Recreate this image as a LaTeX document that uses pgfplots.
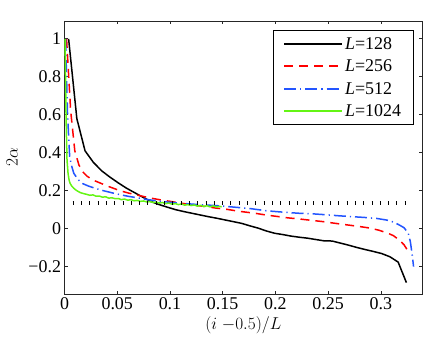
\documentclass[border=0pt]{standalone}
\usepackage{fontspec}
\setmainfont{Liberation Serif}
\usepackage{pgfplots}
\pgfplotsset{compat=1.18}
\definecolor{cRed}{RGB}{255,0,0}
\definecolor{cBlue}{RGB}{35,85,255}
\definecolor{cGreen}{RGB}{100,245,20}

\begin{document}
\begin{tikzpicture}
\useasboundingbox (-64.5bp,-55bp) rectangle (371.5bp,294bp);
\begin{axis}[
  scale only axis, width=357.5bp, height=273bp,
  xmin=0, xmax=0.339, ymin=-0.344, ymax=1.094,
  xtick={0,0.05,0.1,0.15,0.2,0.25,0.3},
  xticklabels={0,0.05,0.1,0.15,0.2,0.25,0.3},
  ytick={-0.2,0,0.2,0.4,0.6,0.8,1},
  yticklabels={−0.2,0,0.2,0.4,0.6,0.8,1},
  font=\fontsize{18}{21}\selectfont,
  tick label style={font=\fontsize{18}{21}\selectfont},
  xlabel={$(i\;{-}0.5)/L$}, ylabel={$2\alpha$},
  ylabel style={yshift=4bp},
  axis line style={black!85, line width=0.7pt},
  tick style={black!85, line width=0.7pt},
  major tick length=3.5bp,
  tick align=inside,
  legend style={at={(1,1)}, anchor=north east, xshift=-8.7bp, yshift=-9.5bp,
    draw=black, font=\fontsize{18}{21}\selectfont,
    inner xsep=10bp, inner ysep=2bp,
    nodes={minimum height=22.5bp}},
  legend cell align=left,
  legend image code/.code={\draw[#1, line width=1.9bp] (0bp,0bp) -- (58bp,0bp);},
]
% L = 128
\addplot[black, line width=1.5bp] coordinates {
  (0.0039,1.0) (0.0117,0.58) (0.0195,0.41) (0.0273,0.35) (0.0352,0.305)
  (0.0430,0.272) (0.0508,0.242) (0.0586,0.214) (0.0664,0.190) (0.0742,0.166)
  (0.0820,0.143) (0.0898,0.127) (0.0977,0.113) (0.1055,0.100) (0.1133,0.090)
  (0.1211,0.081) (0.1289,0.072) (0.1367,0.063) (0.1445,0.055) (0.1523,0.046)
  (0.1602,0.037) (0.1680,0.028) (0.1758,0.015) (0.1836,0.003) (0.1914,-0.012)
  (0.1992,-0.024) (0.2070,-0.031) (0.2148,-0.039) (0.2227,-0.045) (0.2305,-0.050)
  (0.2383,-0.057) (0.2461,-0.064) (0.2539,-0.065) (0.2617,-0.076) (0.2695,-0.087)
  (0.2773,-0.099) (0.2852,-0.110) (0.2930,-0.120) (0.3008,-0.131) (0.3086,-0.148)
  (0.3164,-0.176) (0.3242,-0.284)};
\addlegendentry{\textit{L}=128}
% L = 256
\addplot[cRed, line width=1.5bp, dash pattern=on 9bp off 6bp] coordinates {
  (0.00195,1.0) (0.00586,0.62) (0.00977,0.41) (0.0137,0.335) (0.0176,0.298)
  (0.0215,0.276) (0.0254,0.262) (0.0293,0.251) (0.0332,0.242) (0.0371,0.233)
  (0.0410,0.224) (0.0449,0.216) (0.0488,0.208) (0.0527,0.200) (0.0566,0.194)
  (0.0605,0.188) (0.0645,0.183) (0.0684,0.178) (0.0723,0.173) (0.0762,0.168)
  (0.0801,0.164) (0.0840,0.159) (0.0879,0.155) (0.0918,0.151) (0.0957,0.148)
  (0.1035,0.141) (0.1113,0.134) (0.119,0.127) (0.127,0.121) (0.135,0.116)
  (0.143,0.109) (0.154,0.102) (0.165,0.092) (0.181,0.081) (0.191,0.072)
  (0.201,0.065) (0.212,0.057) (0.223,0.051) (0.234,0.044) (0.2455,0.037)
  (0.257,0.028) (0.268,0.020) (0.279,0.012) (0.290,0.003) (0.298,-0.008)
  (0.306,-0.022) (0.312,-0.037) (0.318,-0.062) (0.322,-0.085) (0.326,-0.12)};
\addlegendentry{\textit{L}=256}
% L = 512
\addplot[cBlue, line width=1.5bp, dash pattern=on 12bp off 4bp on 1.2bp off 4bp] coordinates {
  (0.001,1.0) (0.0029,0.60) (0.0049,0.38) (0.0068,0.33) (0.0088,0.292)
  (0.0127,0.260) (0.0166,0.239) (0.0225,0.225) (0.029,0.213) (0.037,0.200)
  (0.045,0.189) (0.053,0.179) (0.061,0.170) (0.070,0.162) (0.078,0.154)
  (0.090,0.145) (0.100,0.139) (0.110,0.134) (0.120,0.130) (0.130,0.126)
  (0.140,0.123) (0.1475,0.120) (0.160,0.114) (0.176,0.106) (0.192,0.094)
  (0.210,0.086) (0.223,0.081) (0.236,0.078) (0.249,0.073) (0.260,0.068)
  (0.271,0.064) (0.285,0.059) (0.296,0.054) (0.306,0.045) (0.312,0.035)
  (0.318,0.018) (0.322,0.005) (0.326,-0.024) (0.328,-0.07) (0.330,-0.15)
  (0.331,-0.2)};
\addlegendentry{\textit{L}=512}
% L = 1024
\addplot[cGreen, line width=1.5bp] coordinates {
  (0.0005,1.0) (0.0015,0.58) (0.0024,0.36) (0.0034,0.29) (0.0044,0.255)
  (0.0054,0.238) (0.0068,0.225) (0.0088,0.213) (0.0107,0.204) (0.0127,0.197)
  (0.015,0.190) (0.018,0.185) (0.021,0.181) (0.024,0.176) (0.027,0.178)
  (0.030,0.171) (0.033,0.172) (0.036,0.166) (0.039,0.168) (0.042,0.161)
  (0.045,0.163) (0.048,0.158) (0.051,0.159) (0.054,0.153) (0.057,0.156)
  (0.060,0.150) (0.063,0.153) (0.066,0.147) (0.069,0.149) (0.072,0.144)
  (0.075,0.146) (0.078,0.141) (0.081,0.143) (0.084,0.138) (0.087,0.140)
  (0.090,0.135) (0.093,0.138) (0.096,0.132) (0.099,0.135) (0.102,0.129)
  (0.105,0.132) (0.108,0.127) (0.111,0.130) (0.114,0.124) (0.117,0.127)
  (0.120,0.122) (0.123,0.125) (0.126,0.119) (0.129,0.123) (0.132,0.117)
  (0.135,0.121) (0.138,0.115) (0.141,0.120) (0.144,0.114) (0.147,0.118)
  (0.149,0.115)};
\addlegendentry{\textit{L}=1024}
% reference level
\addplot[black, line width=4bp, dash pattern=on 1bp off 7.3bp, forget plot] coordinates {
  (0.0078,0.134) (0.3256,0.134)};
\end{axis}
\end{tikzpicture}
\end{document}
